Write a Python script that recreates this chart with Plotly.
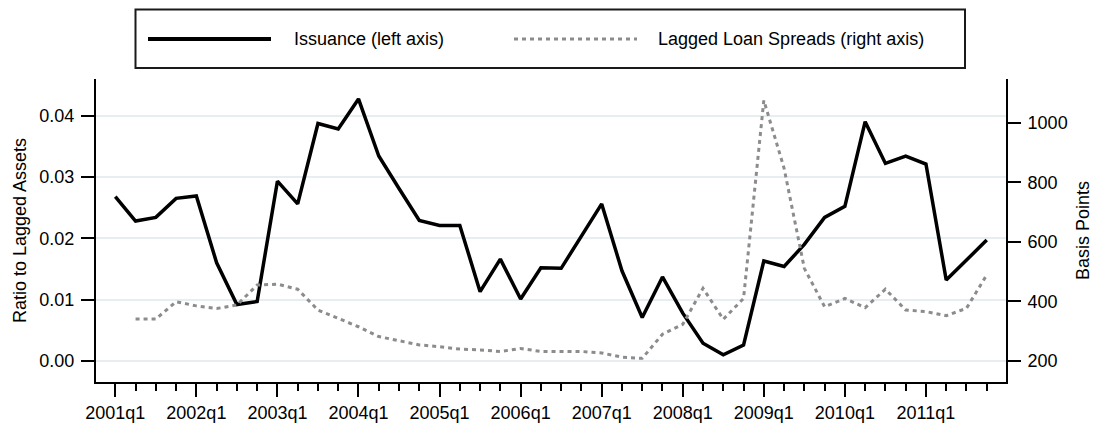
import plotly.graph_objects as go

# Quarterly periods 2001q1 .. 2011q4
years = list(range(2001, 2012))
quarters = [f"{y}q{q}" for y in years for q in range(1, 5)]

tick_labels = ["2001q1", "2002q1", "2003q1", "2004q1", "2005q1", "2006q1",
               "2007q1", "2008q1", "2009q1", "2010q1", "2011q1"]

# Issuance, ratio to lagged assets (left axis)
issuance = [0.0268, 0.0228, 0.0234, 0.0265, 0.0269, 0.0160, 0.0092, 0.0097,
            0.0293, 0.0256, 0.0387, 0.0378, 0.0427, 0.0334, 0.0281, 0.0229,
            0.0221, 0.0221, 0.0113, 0.0166, 0.0101, 0.0152, 0.0151, 0.0203,
            0.0256, 0.0147, 0.0071, 0.0137, 0.0078, 0.0029, 0.0010, 0.0026,
            0.0163, 0.0154, 0.0190, 0.0234, 0.0252, 0.0390, 0.0322, 0.0334,
            0.0321, 0.0132, 0.0165, 0.0197]

# Lagged loan spreads, basis points (right axis)
spreads = [None, 341, 341, 399, 385, 376, 388, 455,
           458, 441, 371, 343, 315, 282, 268, 254,
           248, 240, 237, 232, 242, 232, 232, 232,
           227, 213, 209, 290, 323, 444, 340, 410,
           1075, 847, 511, 382, 410, 379, 441, 371,
           366, 352, 377, 489]

left_ticks = [0.00, 0.01, 0.02, 0.03, 0.04]
right_ticks = [200, 400, 600, 800, 1000]

FONT = "Liberation Sans, Arial, Helvetica, sans-serif"
FS = 18
W, H = 1099, 427
ML, MR, MT, MB = 96, 93, 79, 45
PW, PH = W - ML - MR, H - MT - MB

GRAY = "#8c8c8c"
DOTS = "4px,4px"

xs = list(range(len(quarters)))
q1_pos = [quarters.index(t) for t in tick_labels]

fig = go.Figure()
fig.add_trace(go.Scatter(
    x=xs, y=issuance, mode="lines", name="Issuance (left axis)",
    line=dict(color="black", width=3.5), showlegend=False, yaxis="y"))
fig.add_trace(go.Scatter(
    x=xs, y=spreads, mode="lines", name="Lagged Loan Spreads (right axis)",
    line=dict(color=GRAY, width=3, dash=DOTS),
    showlegend=False, yaxis="y2"))


def px_x(p):
    return (p - ML) / PW


def px_y(p):
    return (H - MB - p) / PH


# Legend box drawn above the plot
shapes = [
    dict(type="rect", xref="paper", yref="paper",
         x0=px_x(135.5), x1=px_x(965), y0=px_y(68), y1=px_y(9.5),
         line=dict(color="#1a1a1a", width=2), fillcolor="white"),
    dict(type="line", xref="paper", yref="paper",
         x0=px_x(148), x1=px_x(271), y0=px_y(39), y1=px_y(39),
         line=dict(color="black", width=4)),
    dict(type="line", xref="paper", yref="paper",
         x0=px_x(514), x1=px_x(637), y0=px_y(39), y1=px_y(39),
         line=dict(color=GRAY, width=3, dash=DOTS)),
]
annotations = [
    dict(text="Issuance (left axis)", xref="paper", yref="paper",
         x=px_x(292), y=px_y(39), xanchor="left", yanchor="middle",
         showarrow=False, font=dict(family=FONT, size=FS, color="black")),
    dict(text="Lagged Loan Spreads (right axis)", xref="paper", yref="paper",
         x=px_x(656), y=px_y(39), xanchor="left", yanchor="middle",
         showarrow=False, font=dict(family=FONT, size=FS, color="black")),
]

fig.update_layout(
    width=W, height=H,
    margin=dict(l=ML, r=MR, t=MT, b=MB, pad=0, autoexpand=False),
    paper_bgcolor="white", plot_bgcolor="white",
    font=dict(family=FONT, size=FS, color="black"),
    shapes=shapes, annotations=annotations,
    xaxis=dict(
        range=[-0.952, 43.95], showgrid=False, zeroline=False,
        automargin=False,
        showline=True, linecolor="black", linewidth=2,
        ticks="outside", ticklen=13, tickwidth=2, tickcolor="black",
        tickvals=q1_pos, ticktext=tick_labels, ticklabelstandoff=0,
        minor=dict(dtick=1, tick0=0, ticks="outside", ticklen=7,
                   tickwidth=2, tickcolor="black", showgrid=False),
        tickfont=dict(family=FONT, size=FS, color="black"),
    ),
    yaxis=dict(
        range=[-0.00342, 0.04595], tickvals=left_ticks, tickformat=".2f",
        automargin=False,
        showgrid=True, gridcolor="#e6eef0", gridwidth=2, zeroline=False,
        showline=True, linecolor="black", linewidth=2,
        ticks="outside", ticklen=13, tickwidth=2, tickcolor="black",
        ticklabelstandoff=3,
        title=dict(text="Ratio to Lagged Assets", standoff=8,
                   font=dict(family=FONT, size=FS, color="black")),
        tickfont=dict(family=FONT, size=FS, color="black"),
    ),
    yaxis2=dict(
        range=[129.5, 1146.7], tickvals=right_ticks, overlaying="y",
        automargin=False,
        side="right", showgrid=False, zeroline=False,
        showline=True, linecolor="black", linewidth=2,
        ticks="outside", ticklen=13, tickwidth=2, tickcolor="black",
        ticklabelstandoff=3,
        title=dict(text="Basis Points", standoff=10,
                   font=dict(family=FONT, size=FS, color="black")),
        tickfont=dict(family=FONT, size=FS, color="black"),
    ),
)

fig.write_html("out.html")
